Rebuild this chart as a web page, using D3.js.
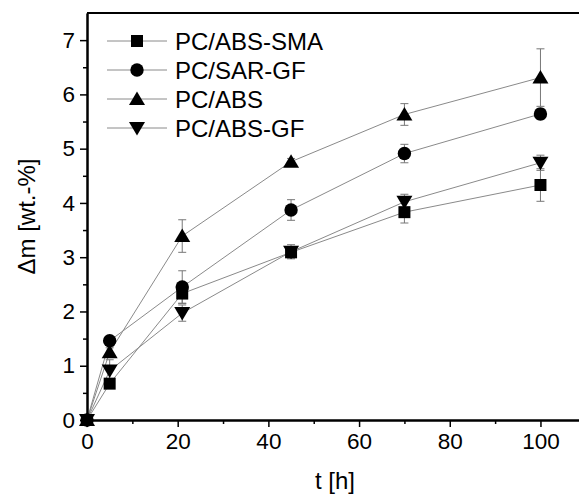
<!DOCTYPE html>
<html>
<head>
<meta charset="utf-8">
<script src="https://cdn.jsdelivr.net/npm/d3@7"></script>
<style>
  html, body { margin: 0; padding: 0; background: #fff; }
  svg { display: block; font-family: "Liberation Sans", Arial, sans-serif; }
</style>
</head>
<body>
<svg id="chart" width="579" height="496"></svg>
<script>
// Mass uptake over time for four blends
const times = [0, 5, 21, 45, 70, 100];
const seriesNames = ["PC/ABS-SMA", "PC/SAR-GF", "PC/ABS", "PC/ABS-GF"];
const seriesShapes = ["square", "circle", "triangleUp", "triangleDown"];
const pcAbsSma = [0, 0.67, 2.33, 3.09, 3.83, 4.33];
const pcAbsSmaErr = [0, 0.05, 0.18, 0.10, 0.20, 0.30];
const pcSarGf = [0, 1.46, 2.45, 3.87, 4.91, 5.64];
const pcSarGfErr = [0, 0.05, 0.30, 0.19, 0.17, 0.10];
const pcAbs = [0, 1.25, 3.39, 4.76, 5.63, 6.31];
const pcAbsErr = [0, 0.08, 0.30, 0.06, 0.20, 0.53];
const pcAbsGf = [0, 0.91, 1.97, 3.10, 4.02, 4.74];
const pcAbsGfErr = [0, 0.20, 0.15, 0.13, 0.14, 0.14];
const xTickValues = [0, 20, 40, 60, 80, 100];
const yTickValues = [0, 1, 2, 3, 4, 5, 6, 7];

const values = [pcAbsSma, pcSarGf, pcAbs, pcAbsGf];
const errors = [pcAbsSmaErr, pcSarGfErr, pcAbsErr, pcAbsGfErr];
const series = seriesNames.map((name, i) => ({
  name, shape: seriesShapes[i],
  points: times.map((t, j) => ({ t, v: values[i][j], e: errors[i][j] }))
}));

const svg = d3.select("#chart");
const plotLeft = 87, plotRight = 579, plotTop = 13, plotBottom = 420;

const x = d3.scaleLinear().domain([0, 108.5]).range([plotLeft, plotRight]);
const y = d3.scaleLinear().domain([0, 7.5]).range([plotBottom, plotTop]);

// marker shapes
function markerPath(shape) {
  switch (shape) {
    case "square": return "M-6,-6H6V6H-6Z";
    case "circle": return d3.arc()({innerRadius: 0, outerRadius: 6.7, startAngle: 0, endAngle: 2 * Math.PI});
    case "triangleUp": return "M0,-7.5L8,6L-8,6Z";
    case "triangleDown": return "M0,7.5L8,-6L-8,-6Z";
  }
}

// connecting lines
const line = d3.line().x(d => x(d.t)).y(d => y(d.v));
svg.append("g").selectAll("path").data(series).join("path")
  .attr("d", d => line(d.points))
  .attr("fill", "none").attr("stroke", "#8a8a8a").attr("stroke-width", 1);

// error bars
const eg = svg.append("g").attr("stroke", "#777").attr("stroke-width", 1).attr("fill", "none");
series.forEach(s => {
  s.points.filter(p => p.e > 0).forEach(p => {
    const cx = x(p.t), y1 = y(p.v + p.e), y2 = y(p.v - p.e);
    eg.append("path").attr("d",
      `M${cx},${y1}V${y2}M${cx - 4},${y1}H${cx + 4}M${cx - 4},${y2}H${cx + 4}`);
  });
});

// markers
series.forEach(s => {
  svg.append("g").selectAll("path").data(s.points).join("path")
    .attr("transform", p => `translate(${x(p.t)},${y(p.v)})`)
    .attr("d", markerPath(s.shape))
    .attr("fill", "#000");
});

// axes
const xAxis = d3.axisBottom(x).tickValues(xTickValues).tickSize(7).tickPadding(6).tickSizeOuter(0);
const xMinor = d3.axisBottom(x).tickValues(d3.range(10, 101, 20)).tickSize(4).tickFormat("").tickSizeOuter(0);
const yAxis = d3.axisLeft(y).tickValues(yTickValues).tickSize(7).tickPadding(5).tickSizeOuter(0);
const yMinor = d3.axisLeft(y).tickValues(d3.range(0.5, 7.5, 1)).tickSize(4).tickFormat("").tickSizeOuter(0);

function styleAxis(g) {
  g.select(".domain").attr("stroke", "#000").attr("stroke-width", 2);
  g.selectAll(".tick line").attr("stroke", "#000").attr("stroke-width", 1.5);
  g.selectAll(".tick text").attr("fill", "#000").style("font-size", "22.5px");
}

svg.append("g").attr("transform", `translate(0,${plotBottom})`).call(xMinor).call(styleAxis);
svg.append("g").attr("transform", `translate(0,${plotBottom})`).call(xAxis).call(styleAxis);
svg.append("g").attr("transform", `translate(${plotLeft},0)`).call(yMinor).call(styleAxis);
svg.append("g").attr("transform", `translate(${plotLeft},0)`).call(yAxis).call(styleAxis);

// top frame line
svg.append("line").attr("x1", plotLeft).attr("x2", plotRight).attr("y1", plotTop).attr("y2", plotTop)
  .attr("stroke", "#000").attr("stroke-width", 2);

// axis titles
svg.append("text").attr("x", (plotLeft + plotRight) / 2 + 2).attr("y", 489)
  .attr("text-anchor", "middle").style("font-size", "24px").text("t [h]");
svg.append("text").attr("transform", `translate(35,${(plotTop + plotBottom) / 2}) rotate(-90)`)
  .attr("text-anchor", "middle").style("font-size", "24px").text("Δm [wt.-%]");

// legend
const legend = svg.append("g").attr("transform", "translate(107,41)");
series.forEach((s, i) => {
  const g = legend.append("g").attr("transform", `translate(0,${i * 29})`);
  g.append("line").attr("x1", 0).attr("x2", 60).attr("stroke", "#8a8a8a").attr("stroke-width", 1);
  g.append("path").attr("transform", "translate(30,0)").attr("d", markerPath(s.shape)).attr("fill", "#000");
  g.append("text").attr("x", 68).attr("y", 8.5).style("font-size", "24px").text(s.name);
});
</script>
</body>
</html>
